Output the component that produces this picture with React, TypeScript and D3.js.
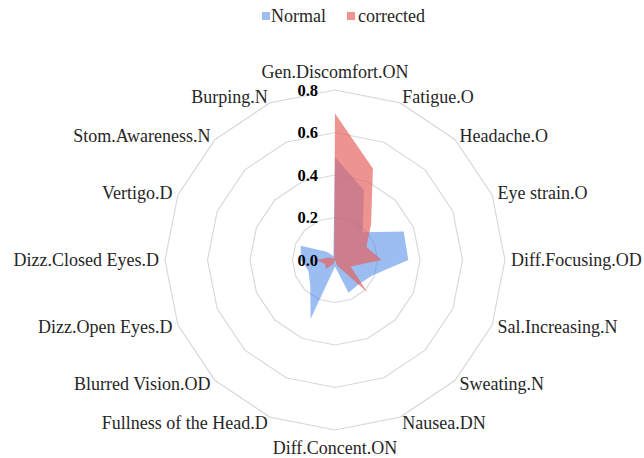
import React from "react";
import * as d3 from "d3";

const categories = [
  "Gen.Discomfort.ON", "Fatigue.O", "Headache.O", "Eye strain.O",
  "Diff.Focusing.OD", "Sal.Increasing.N", "Sweating.N", "Nausea.DN",
  "Diff.Concent.ON", "Fullness of the Head.D", "Blurred Vision.OD", "Dizz.Open Eyes.D",
  "Dizz.Closed Eyes.D", "Vertigo.D", "Stom.Awareness.N", "Burping.N",
];
const normal = [0.485, 0.355, 0.185, 0.35, 0.345, 0.19, 0.16, 0.167, 0.03, 0.3, 0.165, 0.135, 0.16, 0.175, 0.055, 0.02];
const corrected = [0.69, 0.466, 0.24, 0.16, 0.22, 0.08, 0.215, 0.03, 0.0, 0.02, 0.06, 0.05, 0.09, 0.03, 0.01, 0.01];
const ticks = [0, 0.2, 0.4, 0.6, 0.8];

const W = 644, H = 458;
const cx = 335, cy = 260;
const FONT = "Liberation Serif, Tinos, Times New Roman, DejaVu Serif, serif";

const series = [
  { name: "Normal", values: normal, color: "#4a86e8", opacity: 0.55 },
  { name: "corrected", values: corrected, color: "#e5605c", opacity: 0.68 },
];

export default function App() {
  const r = d3.scaleLinear().domain([0, 0.8]).range([0, 170]);
  const angle = d3.scaleLinear().domain([0, categories.length]).range([0, 2 * Math.PI]);

  const shape = d3.lineRadial<number>()
    .angle((_, i) => angle(i))
    .radius((d) => r(d))
    .curve(d3.curveLinearClosed);

  const labelR = 176;

  return (
    <div style={{ position: "absolute", left: 0, top: 0, fontFamily: FONT }}>
      <svg width={W} height={H} style={{ display: "block", background: "#fff", fontFamily: FONT }}>
        {/* legend */}
        <g style={{ fontFamily: FONT, fontSize: "18px" }} fill="#262626">
          <rect x={262} y={12} width={8} height={8} fill={series[0].color} fillOpacity={series[0].opacity} />
          <text x={271} y={16} dominantBaseline="central">Normal</text>
          <rect x={347} y={12} width={8} height={8} fill={series[1].color} fillOpacity={series[1].opacity} />
          <text x={358} y={16} dominantBaseline="central">corrected</text>
        </g>

        <g transform={`translate(${cx},${cy})`}>
          {/* grid rings */}
          {ticks.filter((t) => t > 0).map((t) => (
            <path key={t} d={shape(categories.map(() => t)) || ""} fill="none" stroke="#d9d9d9" strokeWidth={1.2} />
          ))}

          {/* series */}
          {series.map((s) => (
            <path key={s.name} d={shape(s.values) || ""} fill={s.color} fillOpacity={s.opacity} stroke="none" />
          ))}

          {/* radial tick labels */}
          {ticks.map((t) => (
            <text key={t} x={-17} y={-r(t)} textAnchor="end" dominantBaseline="central"
              style={{ fontFamily: FONT, fontSize: "16.5px", fontWeight: "bold" }} fill="#000">
              {t.toFixed(1)}
            </text>
          ))}

          {/* category labels */}
          {categories.map((c, i) => {
            const a = angle(i);
            const sx = Math.sin(a), cyy = -Math.cos(a);
            let x = labelR * sx, y = labelR * cyy;
            let anchor = "middle";
            if (sx > 0.1) anchor = "start";
            else if (sx < -0.1) anchor = "end";
            else y += cyy * 12;
            return (
              <text key={c} x={x} y={y} textAnchor={anchor} dominantBaseline="central"
                style={{ fontFamily: FONT, fontSize: "18px" }} fill="#262626">
                {c}
              </text>
            );
          })}
        </g>
      </svg>
    </div>
  );
}
